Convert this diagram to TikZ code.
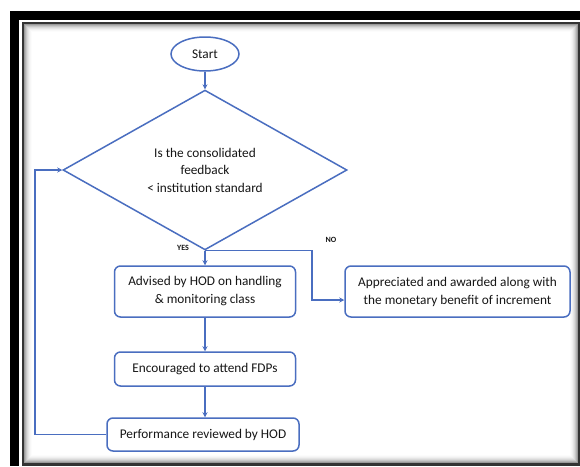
\documentclass[tikz,border=0pt]{standalone}
\usepackage{fontspec}
\setmainfont{Carlito}
\usetikzlibrary{shapes.geometric,arrows.meta}
\definecolor{fblue}{HTML}{4A6EC0}
\definecolor{ftext}{HTML}{161616}
\tikzset{
  fline/.style={draw=fblue,line width=1.5pt},
  arr/.style={fblue,line width=1.4pt,-{Stealth[length=5pt,width=5pt]}},
  procbox/.style={fline,rounded corners=6pt,align=center,font=\fontsize{13.3}{18}\selectfont,text=ftext,inner sep=0pt},
  lbl/.style={font=\bfseries\fontsize{8}{9}\selectfont,text=ftext}
}
\begin{document}
\begin{tikzpicture}[x=1pt,y=-1pt]
\useasboundingbox (0,0) rectangle (580,466);
\fill[white] (0,0) rectangle (580,466);
% outer black frame
\fill[black] (10,11) rectangle (580,20);
\fill[black] (10,11) rectangle (19,466);
% inner frame with inset shadow
\fill[black!80] (22,22) rectangle (580,466);
\fill[white] (24,24) rectangle (578,463);
\foreach \i/\g in {0/40,1/30,2/22,3/15,4/10,5/6,6/3,7/1} {
  \draw[line width=1pt,black!\g] (24.5+\i,24.5+\i) rectangle (577.5-\i,462.5-\i);
}
% flowchart
\node[ellipse,fline,minimum width=68pt,minimum height=34pt,inner sep=0pt,text=ftext,font=\fontsize{13.3}{16}\selectfont] (start) at (205,54) {Start};
\node[diamond,fline,minimum width=284pt,minimum height=120pt,inner sep=0pt,align=center,text=ftext,font=\fontsize{13.3}{17.5}\selectfont] (dec) at (205,170) {Is the consolidated\\feedback\\\textless{} institution standard};
\node[procbox,minimum width=181pt,minimum height=51pt] (b1) at (205,291.5) {Advised by HOD on handling\\\& monitoring class};
\node[procbox,minimum width=225pt,minimum height=51pt] (b2) at (457.5,291.5) {Appreciated and awarded along with\\the monetary benefit of increment};
\node[procbox,minimum width=181pt,minimum height=34pt] (b3) at (205,369) {Encouraged to attend FDPs};
\node[procbox,minimum width=192pt,minimum height=33pt] (b4) at (203,434.5) {Performance reviewed by HOD};
\node[lbl] (yes) at (183,248) {YES};
\node[lbl] (no) at (331,240) {NO};
\coordinate (nc) at (312,300);
\coordinate (lp) at (35,435);
\draw[arr] (start.south) -- (dec.north);
\draw[arr] (dec.south) -- (b1.north);
\draw[arr] (dec.south) -| (nc) -- (nc -| b2.west);
\draw[arr] (b1.south) -- (b3.north);
\draw[arr] (b3.south) -- (b3.south |- b4.north);
\draw[arr] (b4.west) -- (b4.west -| lp) |- (dec.west);
\end{tikzpicture}
\end{document}
